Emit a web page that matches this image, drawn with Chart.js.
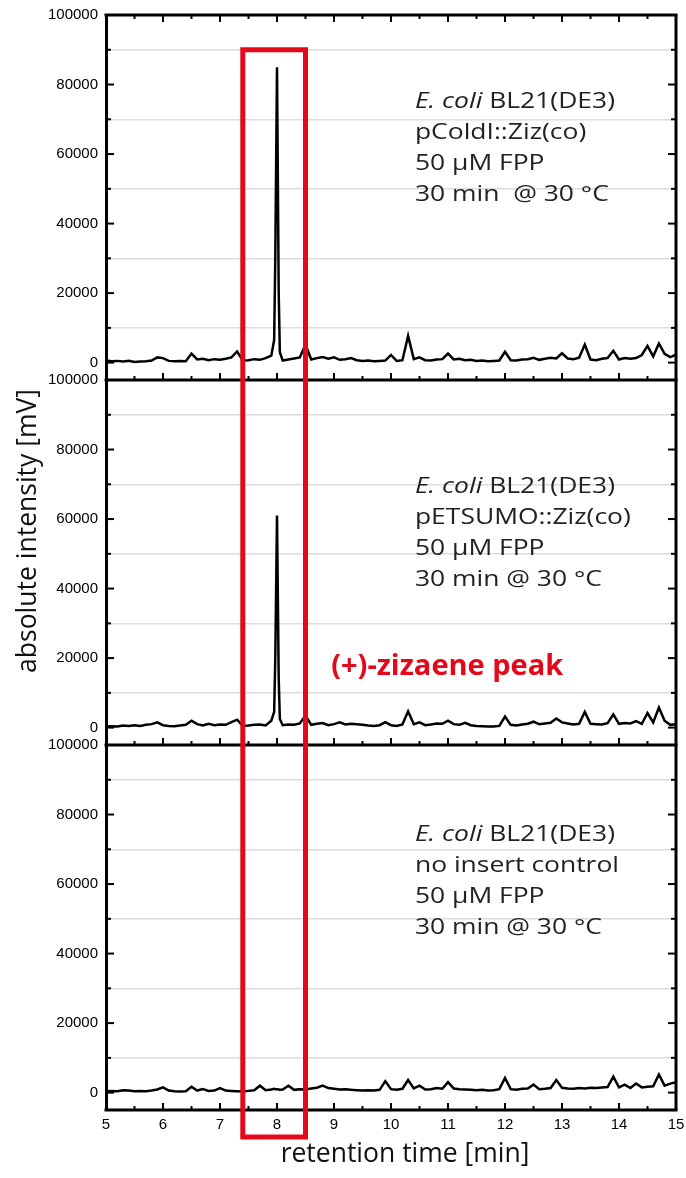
<!DOCTYPE html>
<html>
<head>
<meta charset="utf-8">
<script src="https://cdn.jsdelivr.net/npm/chart.js@4.4.1/dist/chart.umd.min.js"></script>
<style>
  html, body { margin: 0; padding: 0; background: #fff; }
</style>
</head>
<body>
<canvas id="chart" width="686" height="1178"></canvas>
<script>
// retention time [min]
const retentionTime = [
  5.0, 5.1, 5.2, 5.3, 5.4, 5.5, 5.6, 5.7, 5.8, 5.9,
  6.0, 6.1, 6.2, 6.3, 6.4, 6.5, 6.6, 6.7, 6.8, 6.9,
  7.0, 7.1, 7.2, 7.3, 7.4, 7.5, 7.6, 7.7, 7.8, 7.9, 7.95, 7.97,
  8.0, 8.03, 8.05, 8.1, 8.2, 8.3, 8.4, 8.5, 8.6, 8.7, 8.8, 8.9,
  9.0, 9.1, 9.2, 9.3, 9.4, 9.5, 9.6, 9.7, 9.8, 9.9,
  10.0, 10.1, 10.2, 10.3, 10.4, 10.5, 10.6, 10.7, 10.8, 10.9,
  11.0, 11.1, 11.2, 11.3, 11.4, 11.5, 11.6, 11.7, 11.8, 11.9,
  12.0, 12.1, 12.2, 12.3, 12.4, 12.5, 12.6, 12.7, 12.8, 12.9,
  13.0, 13.1, 13.2, 13.3, 13.4, 13.5, 13.6, 13.7, 13.8, 13.9,
  14.0, 14.1, 14.2, 14.3, 14.4, 14.5, 14.6, 14.7, 14.8, 14.9,
  15.0
];

// absolute intensity [mV], one trace per panel
const pColdI = [
  600, 400, 500, 300, 500, 200, 300, 400, 600, 1500,
  1300, 500, 400, 500, 400, 2600, 900, 1100, 700, 1000,
  800, 1100, 1500, 3200, 600, 700, 1000, 800, 1300, 2000, 6500, 30000,
  85000, 20000, 3000, 600, 900, 1200, 1500, 5200, 900, 1300, 1600, 1100,
  1500, 800, 1000, 1300, 700, 500, 600, 400, 500, 600,
  2200, 500, 700, 7700, 1000, 1500, 700, 600, 900, 1000,
  2600, 900, 1100, 700, 800, 500, 600, 400, 500, 600,
  3100, 700, 600, 900, 1000, 1400, 800, 1100, 1400, 1200,
  2700, 1200, 1000, 1400, 5200, 900, 700, 1100, 1300, 3400,
  900, 1300, 1100, 1300, 2200, 4800, 1800, 5500, 2500, 1600,
  2300
];
const pETSUMO = [
  300, 400, 300, 600, 500, 700, 500, 800, 1000, 1500,
  700, 500, 400, 600, 800, 2000, 1000, 600, 1100, 700,
  900, 800, 1600, 2300, 500, 600, 800, 900, 600, 2000, 4500, 20000,
  61000, 14000, 2500, 700, 900, 800, 1200, 3500, 800, 1100, 1300, 700,
  1000, 1500, 900, 1100, 1000, 800, 600, 500, 700, 1600,
  700, 500, 900, 4700, 1000, 1500, 700, 900, 1200, 1100,
  2000, 1000, 800, 1400, 700, 500, 400, 300, 300, 500,
  3200, 800, 600, 900, 1100, 1700, 1000, 1200, 1400, 2600,
  1500, 1200, 900, 1100, 4500, 1100, 1000, 900, 1300, 3800,
  1100, 1300, 1200, 1900, 1100, 4200, 1500, 5800, 2000, 800,
  1000
];
const noInsert = [
  400, 500, 400, 700, 600, 400, 500, 400, 600, 900,
  1500, 600, 400, 300, 400, 1700, 600, 1000, 500, 600,
  1300, 600, 500, 400, 300, 500, 700, 2000, 700, 900, 1100, 1000,
  1000, 900, 800, 900, 2000, 800, 1000, 900, 1200, 1400, 2000, 1300,
  1100, 900, 1000, 800, 700, 600, 700, 600, 800, 3300,
  1000, 800, 1100, 3600, 1200, 2000, 900, 1000, 1300, 1100,
  3000, 1200, 1000, 900, 800, 700, 800, 600, 700, 1000,
  4200, 1000, 800, 1100, 1200, 2300, 1000, 1100, 1300, 3600,
  1400, 1200, 1100, 1300, 1200, 1400, 1300, 1500, 1600, 4600,
  1500, 2300, 1300, 2600, 1500, 1700, 1800, 5200, 2000, 2600,
  3000
];

const xTicks = [5, 6, 7, 8, 9, 10, 11, 12, 13, 14, 15];
const yTicks = [0, 10000, 20000, 30000, 40000, 50000, 60000, 70000, 80000, 90000, 100000];

// panel captions: [italic part, regular part] then plain lines
const captionTop = [['E. coli', ' BL21(DE3)'], 'pColdI::Ziz(co)', '50 µM FPP', '30 min  @ 30 °C'];
const captionMid = [['E. coli', ' BL21(DE3)'], 'pETSUMO::Ziz(co)', '50 µM FPP', '30 min @ 30 °C'];
const captionBot = [['E. coli', ' BL21(DE3)'], 'no insert control', '50 µM FPP', '30 min @ 30 °C'];
const peakLabel = '(+)-zizaene peak';
const peakWindow = [7.4, 8.5];

const RED = '#e3081a';
const tickFont = { family: 'Liberation Sans, Arial, sans-serif', size: 15 };
const textFamily = '"Open Sans", "Noto Sans", sans-serif';

const panelIds = ['yTop', 'yMid', 'yBot'];
const captions = [
  { lines: captionTop, x: 10.42, y: 75000 },
  { lines: captionMid, x: 10.42, y: 69200 },
  { lines: captionBot, x: 10.42, y: 74100 }
];

function toPoints(values) {
  return retentionTime.map((t, i) => ({ x: t, y: values[i] }));
}

function yAxis(weight) {
  return {
    type: 'linear',
    position: 'left',
    stack: 'panels',
    stackWeight: 1,
    weight: weight,
    min: -5000,
    max: 100000,
    afterBuildTicks: axis => { axis.ticks = yTicks.map(v => ({ value: v })); },
    afterFit: axis => { axis.width = 106; axis.paddingTop = 0; axis.paddingBottom = 0; },
    ticks: {
      autoSkip: false,
      color: '#000',
      font: tickFont,
      padding: 8,
      callback: v => (v % 20000 === 0 ? String(v) : '')
    },
    grid: {
      drawTicks: false,
      lineWidth: 1.5,
      color: c => (c.tick && c.tick.value % 20000 === 10000 ? '#dcdcdc' : 'rgba(0,0,0,0)')
    },
    border: { display: true, color: '#000', width: 3 }
  };
}

function line(ctx, x1, y1, x2, y2) {
  ctx.beginPath();
  ctx.moveTo(x1, y1);
  ctx.lineTo(x2, y2);
  ctx.stroke();
}

const decor = {
  id: 'decor',
  afterDraw(chart) {
    const { ctx, chartArea: a, scales } = chart;
    const x = scales.x;
    ctx.save();
    ctx.strokeStyle = '#000';
    ctx.lineCap = 'butt';

    panelIds.forEach((id, i) => {
      const y = scales[id];
      // frame
      ctx.lineWidth = 3;
      line(ctx, a.left - 1.5, y.bottom, a.right + 1.5, y.bottom);
      line(ctx, a.right, y.top, a.right, y.bottom);
      if (i === 0) line(ctx, a.left - 1.5, y.top, a.right + 1.5, y.top);
      // y ticks, inward on both sides
      ctx.lineWidth = 2;
      yTicks.forEach(v => {
        const p = y.getPixelForValue(v);
        const len = v % 20000 === 0 ? 8 : 5;
        line(ctx, a.left, p, a.left + len, p);
        line(ctx, a.right, p, a.right - len, p);
      });
      // x ticks, inward at bottom (and top for first panel)
      for (let t = 5.5; t < 15; t += 0.5) {
        const px = x.getPixelForValue(t);
        const len = Number.isInteger(t) ? 7 : 4;
        line(ctx, px, y.bottom, px, y.bottom - len);
        if (i === 0) line(ctx, px, y.top, px, y.top + len);
      }
      // caption, drawn a little wide like the original figure
      const cap = captions[i];
      const cx = x.getPixelForValue(cap.x);
      let cy = y.getPixelForValue(cap.y);
      ctx.save();
      ctx.translate(cx, 0);
      ctx.scale(1.23, 1);
      ctx.fillStyle = '#222';
      ctx.textBaseline = 'middle';
      ctx.textAlign = 'left';
      cap.lines.forEach(l => {
        if (Array.isArray(l)) {
          ctx.font = 'italic 21.5px ' + textFamily;
          ctx.fillText(l[0], 0, cy);
          const w = ctx.measureText(l[0]).width;
          ctx.font = '21.5px ' + textFamily;
          ctx.fillText(l[1], w, cy);
        } else {
          ctx.font = '21.5px ' + textFamily;
          ctx.fillText(l, 0, cy);
        }
        cy += 31;
      });
      ctx.restore();
    });

    // peak label
    const yMid = scales.yMid;
    ctx.fillStyle = RED;
    ctx.font = 'bold 29px ' + textFamily;
    ctx.textBaseline = 'middle';
    ctx.textAlign = 'left';
    ctx.fillText(peakLabel, x.getPixelForValue(8.95), yMid.getPixelForValue(17500));

    // axis titles
    ctx.fillStyle = '#111';
    ctx.font = '26.5px ' + textFamily;
    ctx.textAlign = 'center';
    ctx.fillText('retention time [min]', 405, 1154);
    ctx.save();
    ctx.translate(28, 531);
    ctx.rotate(-Math.PI / 2);
    ctx.fillText('absolute intensity [mV]', 0, 0);
    ctx.restore();

    // red box round the zizaene window
    ctx.strokeStyle = RED;
    ctx.lineWidth = 5;
    const l = x.getPixelForValue(peakWindow[0]);
    const r = x.getPixelForValue(peakWindow[1]);
    const top = scales.yTop.getPixelForValue(90000);
    ctx.strokeRect(l, top, r - l, a.bottom + 27 - top);
    ctx.restore();
  }
};

new Chart(document.getElementById('chart'), {
  type: 'line',
  data: {
    datasets: [
      { data: toPoints(pColdI), yAxisID: 'yTop' },
      { data: toPoints(pETSUMO), yAxisID: 'yMid' },
      { data: toPoints(noInsert), yAxisID: 'yBot' }
    ].map(d => Object.assign(d, { borderColor: '#000', borderWidth: 2.5, pointRadius: 0, tension: 0, fill: false }))
  },
  options: {
    responsive: false,
    animation: false,
    devicePixelRatio: 1,
    layout: { padding: { left: 0, right: 10, top: 15, bottom: 0 } },
    plugins: { legend: { display: false }, tooltip: { enabled: false } },
    scales: {
      x: {
        type: 'linear',
        position: 'bottom',
        min: 5,
        max: 15,
        afterBuildTicks: axis => { axis.ticks = xTicks.map(v => ({ value: v })); },
        afterFit: axis => { axis.height = 68; axis.paddingLeft = 0; axis.paddingRight = 0; },
        ticks: { color: '#000', font: tickFont, padding: 6, maxRotation: 0, autoSkip: false },
        grid: { display: false, drawTicks: false },
        border: { display: false }
      },
      yTop: yAxis(3),
      yMid: yAxis(2),
      yBot: yAxis(1)
    }
  },
  plugins: [decor]
});
</script>
</body>
</html>
